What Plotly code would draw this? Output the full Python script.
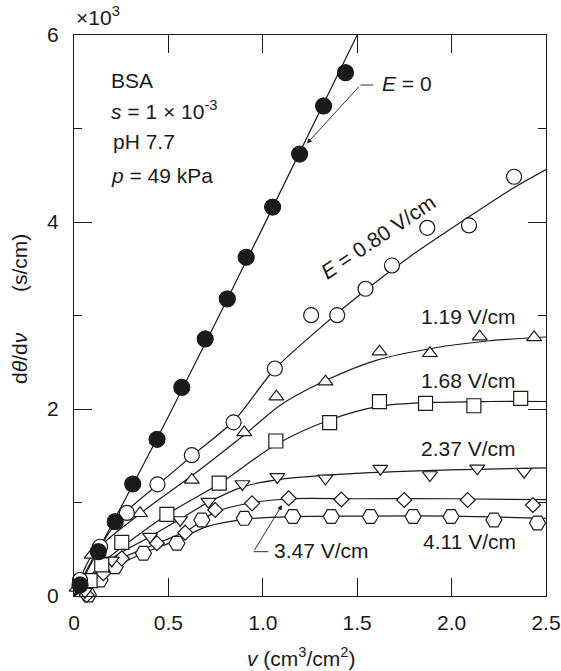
import plotly.graph_objects as go

# measured points, v in cm3/cm2, dθ/dv in 10^3 s/cm
v_e0 = [0.032, 0.129, 0.218, 0.311, 0.440, 0.571, 0.695, 0.812, 0.912, 1.052, 1.195, 1.322, 1.438]
y_e0 = [0.118, 0.474, 0.795, 1.198, 1.676, 2.232, 2.749, 3.177, 3.623, 4.160, 4.727, 5.241, 5.597]

v_080 = [0.032, 0.138, 0.280, 0.442, 0.624, 0.845, 1.064, 1.256, 1.394, 1.544, 1.684, 1.871, 2.092, 2.331]
y_080 = [0.171, 0.527, 0.888, 1.194, 1.506, 1.857, 2.433, 3.003, 3.003, 3.286, 3.535, 3.938, 3.963, 4.484]

v_119 = [0.014, 0.094, 0.350, 0.624, 0.902, 1.072, 1.332, 1.618, 1.885, 2.149, 2.437]
y_119 = [0.086, 0.439, 0.885, 1.241, 1.749, 2.132, 2.292, 2.613, 2.596, 2.773, 2.766]

v_168 = [0.085, 0.147, 0.253, 0.492, 0.769, 1.069, 1.354, 1.618, 1.862, 2.118, 2.366]
y_168 = [0.164, 0.332, 0.574, 0.872, 1.208, 1.658, 1.854, 2.078, 2.061, 2.035, 2.114]

v_237 = [0.058, 0.200, 0.403, 0.562, 0.712, 0.892, 1.077, 1.332, 1.623, 1.885, 2.136, 2.384]
y_237 = [0.046, 0.380, 0.634, 0.813, 1.009, 1.198, 1.273, 1.259, 1.362, 1.294, 1.366, 1.329]

v_347 = [0.067, 0.155, 0.253, 0.439, 0.589, 0.748, 0.943, 1.137, 1.416, 1.749, 2.085, 2.431]
y_347 = [0.011, 0.243, 0.403, 0.564, 0.677, 0.920, 0.991, 1.045, 1.032, 1.027, 1.027, 0.973]

v_411 = [0.076, 0.138, 0.218, 0.368, 0.545, 0.677, 0.902, 1.159, 1.363, 1.570, 1.796, 1.997, 2.224, 2.455]
y_411 = [0.011, 0.171, 0.313, 0.457, 0.564, 0.813, 0.831, 0.850, 0.850, 0.850, 0.850, 0.850, 0.813, 0.781]

# fitted curves
fit_e0_v = [0, 0.5, 1.0, 1.5]
fit_e0_y = [0, 1.92, 3.94, 6.0]
fit_080_v = [0, 0.1, 0.25, 0.45, 0.65, 0.85, 1.06, 1.3, 1.55, 1.8, 2.05, 2.3, 2.5]
fit_080_y = [0, 0.40, 0.85, 1.20, 1.54, 1.88, 2.42, 2.86, 3.28, 3.66, 4.00, 4.33, 4.56]
fit_119_v = [0, 0.1, 0.35, 0.62, 0.9, 1.1, 1.35, 1.6, 1.9, 2.2, 2.5]
fit_119_y = [0, 0.45, 0.88, 1.28, 1.72, 2.05, 2.32, 2.52, 2.65, 2.73, 2.77]
fit_168_v = [0, 0.15, 0.5, 0.77, 1.07, 1.35, 1.62, 1.9, 2.2, 2.5]
fit_168_y = [0, 0.35, 0.88, 1.20, 1.62, 1.88, 2.03, 2.07, 2.08, 2.08]
fit_237_v = [0, 0.2, 0.4, 0.56, 0.71, 0.9, 1.1, 1.4, 1.7, 2.0, 2.5]
fit_237_y = [0, 0.40, 0.63, 0.82, 1.00, 1.17, 1.25, 1.30, 1.33, 1.35, 1.37]
fit_347_v = [0, 0.15, 0.25, 0.45, 0.6, 0.75, 0.95, 1.15, 1.5, 2.0, 2.5]
fit_347_y = [0, 0.25, 0.40, 0.57, 0.70, 0.90, 1.00, 1.04, 1.04, 1.04, 1.03]
fit_411_v = [0, 0.14, 0.22, 0.37, 0.55, 0.7, 0.9, 1.15, 1.5, 2.0, 2.5]
fit_411_y = [0, 0.17, 0.31, 0.46, 0.60, 0.74, 0.82, 0.85, 0.855, 0.855, 0.83]

FONT = "Liberation Sans, Arial, sans-serif"
INK = "#1a1a1a"
FS = 21

fig = go.Figure()

fits = [(fit_e0_v, fit_e0_y), (fit_080_v, fit_080_y), (fit_119_v, fit_119_y),
        (fit_168_v, fit_168_y), (fit_237_v, fit_237_y), (fit_347_v, fit_347_y),
        (fit_411_v, fit_411_y)]
for fv, fy in fits:
    fig.add_trace(go.Scatter(x=fv, y=fy, mode="lines", line=dict(color=INK, width=1.2, shape="spline", smoothing=0.8),
                             showlegend=False, hoverinfo="skip"))

series = [
    (v_411, y_411, "hexagon2", 16, "white"),
    (v_347, y_347, "diamond", 11.5, "white"),
    (v_237, y_237, "triangle-down", 13, "white"),
    (v_168, y_168, "square", 14, "white"),
    (v_119, y_119, "triangle-up", 13, "white"),
    (v_080, y_080, "circle", 15, "white"),
    (v_e0, y_e0, "circle", 16, INK),
]
for sv, sy, sym, sz, fill in series:
    fig.add_trace(go.Scatter(x=sv, y=sy, mode="markers",
                             marker=dict(symbol=sym, size=sz, color=fill, line=dict(color=INK, width=1.2)),
                             showlegend=False, cliponaxis=False))

ann = dict(showarrow=False, font=dict(family=FONT, size=FS, color=INK), xanchor="left", yanchor="middle")
fig.add_annotation(x=0.186, y=5.51, text="BSA", **ann)
fig.add_annotation(x=0.188, y=5.20, text="<i>s</i> = 1 × 10<sup>-3</sup>", **ann)
fig.add_annotation(x=0.196, y=4.86, text="pH 7.7", **ann)
fig.add_annotation(x=0.188, y=4.50, text="<i>p</i> = 49 kPa", **ann)
fig.add_annotation(x=1.623, y=5.48, text="<i>E</i> = 0", **ann)
fig.add_annotation(x=1.825, y=2.99, text="1.19 V/cm", **ann)
fig.add_annotation(x=1.825, y=2.31, text="1.68 V/cm", **ann)
fig.add_annotation(x=1.825, y=1.58, text="2.37 V/cm", **ann)
fig.add_annotation(x=1.839, y=0.58, text="4.11 V/cm", **ann)
fig.add_annotation(x=1.049, y=0.49, text="3.47 V/cm", **ann)
fig.add_annotation(x=1.613, y=3.84, text="<i>E</i> = 0.80 V/cm", textangle=-34,
                   showarrow=False, font=dict(family=FONT, size=FS, color=INK))

# leader lines
fig.add_annotation(x=1.234, y=4.84, ax=1.517, ay=5.465, axref="x", ayref="y", text="",
                   showarrow=True, arrowhead=2, arrowsize=1.1, arrowwidth=0.9, arrowcolor=INK)
fig.add_shape(type="line", x0=1.517, y0=5.465, x1=1.585, y1=5.465, line=dict(color=INK, width=0.9))
fig.add_annotation(x=1.102, y=0.973, ax=0.951, ay=0.474, axref="x", ayref="y", text="",
                   showarrow=True, arrowhead=2, arrowsize=1.1, arrowwidth=0.9, arrowcolor=INK)
fig.add_shape(type="line", x0=0.951, y0=0.474, x1=1.03, y1=0.474, line=dict(color=INK, width=0.9))

# axis titles and multiplier
fig.add_annotation(xref="paper", yref="paper", x=0.0, y=1.0, yshift=4, xanchor="left", yanchor="bottom",
                   text="×10<sup>3</sup>", showarrow=False, font=dict(family=FONT, size=FS, color=INK))
fig.add_annotation(xref="paper", yref="paper", x=0.483, y=-0.109, xanchor="center", yanchor="middle",
                   text="<i>v</i> (cm<sup>3</sup>/cm<sup>2</sup>)", showarrow=False,
                   font=dict(family=FONT, size=FS, color=INK))
fig.add_annotation(xref="paper", yref="paper", x=-0.114, y=0.512, xanchor="center", yanchor="middle",
                   text="d<i>θ</i>/d<i>ν</i>" + "&nbsp;" * 7 + "(s/cm)", textangle=-90, showarrow=False,
                   font=dict(family=FONT, size=FS, color=INK))

fig.update_xaxes(range=[0, 2.5], tickvals=[0, 0.5, 1.0, 1.5, 2.0, 2.5],
                 ticktext=["0", "0.5", "1.0", "1.5", "2.0", "2.5"],
                 ticks="inside", ticklen=18, tickwidth=1.2, tickcolor=INK,
                 showline=True, linecolor=INK, linewidth=1.3, mirror="ticks",
                 showgrid=False, zeroline=False, ticklabelstandoff=8, automargin=False,
                 tickfont=dict(family=FONT, size=FS, color=INK))
fig.update_yaxes(range=[0, 6], tickvals=[0, 2, 4, 6],
                 ticks="inside", ticklen=18, tickwidth=1.2, tickcolor=INK,
                 minor=dict(tickvals=[1, 3, 5], ticks="inside", ticklen=8, tickwidth=1.2, tickcolor=INK),
                 showline=True, linecolor=INK, linewidth=1.3, mirror="ticks",
                 showgrid=False, zeroline=False, ticklabelstandoff=10, automargin=False,
                 tickfont=dict(family=FONT, size=FS, color=INK))

fig.update_layout(width=561, height=671, margin=dict(l=74, r=15, t=35, b=75),
                  plot_bgcolor="white", paper_bgcolor="white",
                  font=dict(family=FONT, color=INK))

# drop the default 8px body margin so the figure fills the window exactly
fig.write_html("out.html", config={"displayModeBar": False},
               post_script="document.body.style.margin='0';document.body.style.overflow='hidden';")
